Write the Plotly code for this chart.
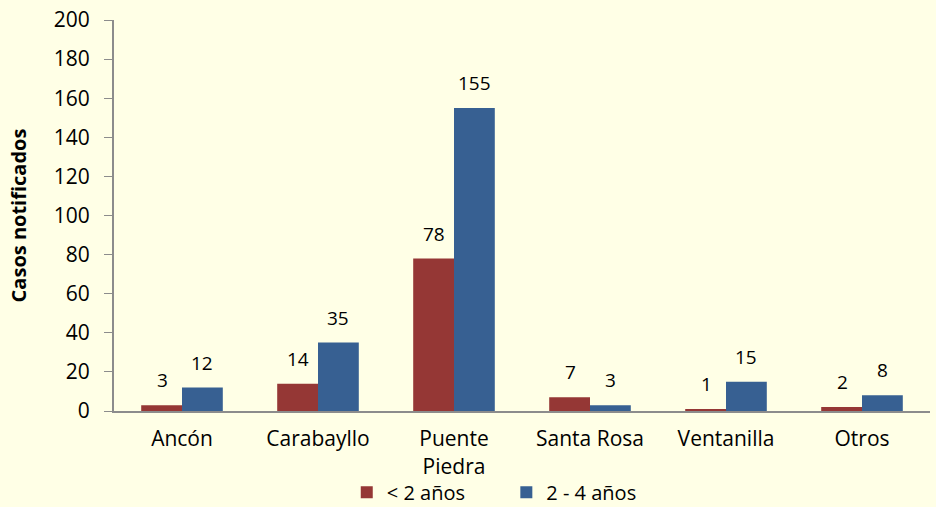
import plotly.graph_objects as go

categories = ["Ancón", "Carabayllo", "Puente<br>Piedra", "Santa Rosa", "Ventanilla", "Otros"]
menor_2 = [3, 14, 78, 7, 1, 2]
de_2_a_4 = [12, 35, 155, 3, 15, 8]
y_ticks = [0, 20, 40, 60, 80, 100, 120, 140, 160, 180, 200]
series_names = ["< 2 años", "2 - 4 años"]

font_family = "Open Sans, sans-serif"
bg = "#FFFFE6"

fig = go.Figure()
fig.add_trace(go.Bar(
    x=categories, y=menor_2, name=series_names[0] + "       ",
    marker=dict(color="#953735", line=dict(width=0)),
))
fig.add_trace(go.Bar(
    x=categories, y=de_2_a_4, name=series_names[1],
    marker=dict(color="#376092", line=dict(width=0)),
))

annotations = []
for series, shift in ((menor_2, -20), (de_2_a_4, 20)):
    for cat, val in zip(categories, series):
        annotations.append(dict(
            x=cat, y=val, xref="x", yref="y", text=str(val), showarrow=False,
            xshift=shift, yshift=25, font=dict(size=19, color="#000000"),
        ))

fig.update_layout(
    width=936, height=507,
    paper_bgcolor=bg, plot_bgcolor=bg,
    margin=dict(l=114, r=6, t=20, b=96, autoexpand=False),
    barmode="group", bargap=0.4, bargroupgap=0,
    font=dict(family=font_family, size=21, color="#000000"),
    showlegend=True,
    legend=dict(orientation="h", x=0.466, xanchor="center", y=-0.208, yanchor="middle",
                font=dict(size=20), traceorder="normal", itemwidth=30,
                bgcolor="rgba(0,0,0,0)"),
    annotations=annotations,
    xaxis=dict(showline=True, linecolor="#8c8c8c", linewidth=2, ticks="outside",
               ticklen=8, tickcolor="rgba(0,0,0,0)", automargin=False,
               showgrid=False, tickfont=dict(size=21)),
    yaxis=dict(range=[0, 200], tickvals=y_ticks, showline=True, linecolor="#8c8c8c",
               linewidth=2, ticks="outside", ticklen=8, tickcolor="#8c8c8c",
               ticklabelstandoff=10, automargin=False,
               showgrid=False, zeroline=False, tickfont=dict(size=21),
               title=dict(text="<b>Casos notificados</b>", font=dict(size=20), standoff=22)),
)

fig.write_html("out.html", config={"displayModeBar": False},
               post_script="document.body.style.margin='0';document.body.style.background='#FFFFE6';")
